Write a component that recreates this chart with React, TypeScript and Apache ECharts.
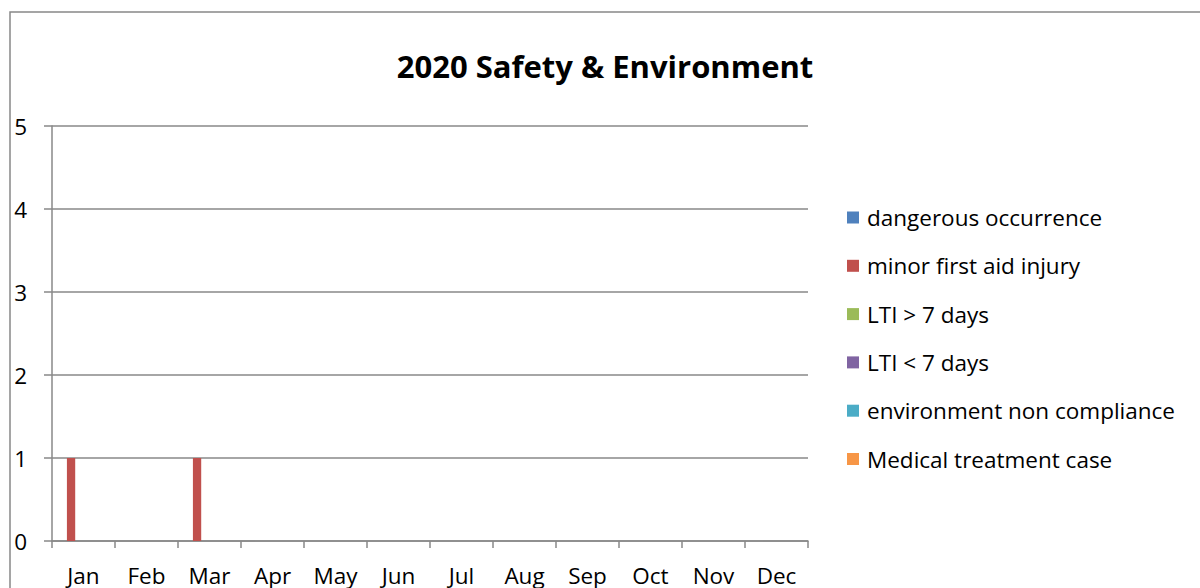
import React, { useEffect, useRef } from "react";
import * as echarts from "echarts";

const months = ["Jan", "Feb", "Mar", "Apr", "May", "Jun", "Jul", "Aug", "Sep", "Oct", "Nov", "Dec"];
const seriesNames = [
  "dangerous occurrence",
  "minor first aid injury",
  "LTI > 7 days",
  "LTI < 7 days",
  "environment non compliance",
  "Medical treatment case",
];
const dangerousOccurrence = [0, 0, 0, 0, 0, 0, 0, 0, 0, 0, 0, 0];
const minorFirstAidInjury = [1, 0, 1, 0, 0, 0, 0, 0, 0, 0, 0, 0];
const ltiOver7 = [0, 0, 0, 0, 0, 0, 0, 0, 0, 0, 0, 0];
const ltiUnder7 = [0, 0, 0, 0, 0, 0, 0, 0, 0, 0, 0, 0];
const envNonCompliance = [0, 0, 0, 0, 0, 0, 0, 0, 0, 0, 0, 0];
const medicalTreatment = [0, 0, 0, 0, 0, 0, 0, 0, 0, 0, 0, 0];
const seriesValues = [dangerousOccurrence, minorFirstAidInjury, ltiOver7, ltiUnder7, envNonCompliance, medicalTreatment];
const colors = ["#4F81BD", "#C0504D", "#9BBB59", "#8064A2", "#4BACC6", "#F79646"];

const FONT = "'Open Sans', 'Noto Sans', sans-serif";
const GRAY = "#888888";

export default function App() {
  const ref = useRef<HTMLDivElement>(null);
  useEffect(() => {
    document.body.style.margin = "0";
    const chart = echarts.init(ref.current!, undefined, { renderer: "svg" });
    chart.setOption({
      animation: false,
      backgroundColor: "#ffffff",
      color: colors,
      title: {
        text: "2020 Safety & Environment",
        left: 605,
        textAlign: "center",
        top: 50,
        padding: 0,
        textStyle: { fontFamily: FONT, fontSize: 31, fontWeight: "bold", color: "#000000" },
      },
      legend: {
        orient: "vertical",
        left: 847,
        top: 206,
        padding: 0,
        itemWidth: 12,
        itemHeight: 12,
        itemGap: 25.3,
        icon: "rect",
        data: seriesNames,
        textStyle: { fontFamily: FONT, fontSize: 22.5, lineHeight: 22, color: "#000000", padding: [0, 0, 0, 3] },
      },
      grid: { left: 52, right: 392, top: 126, bottom: 47, containLabel: false },
      xAxis: {
        type: "category",
        data: months,
        boundaryGap: true,
        axisLine: { show: true, lineStyle: { color: GRAY, width: 1.5 } },
        axisTick: { show: true, length: 7, lineStyle: { color: GRAY, width: 1.5 } },
        axisLabel: { fontFamily: FONT, fontSize: 22.5, lineHeight: 18, color: "#000000", margin: 25, interval: 0 },
        splitLine: { show: false },
      },
      yAxis: {
        type: "value",
        min: 0,
        max: 5,
        interval: 1,
        axisLine: { show: true, lineStyle: { color: GRAY, width: 1.5 } },
        axisTick: { show: true, length: 8, lineStyle: { color: GRAY, width: 1.5 } },
        axisLabel: { fontFamily: FONT, fontSize: 22.5, color: "#000000", margin: 25, align: "right" },
        splitLine: { show: true, lineStyle: { color: GRAY, width: 1.5 } },
      },
      series: seriesNames.map((name, i) => ({
        name,
        type: "bar",
        data: seriesValues[i],
        barGap: "0%",
        barCategoryGap: "21%",
        itemStyle: { color: colors[i] },
      })),
      graphic: [
        {
          type: "rect",
          shape: { x: 10, y: 12, width: 1300, height: 700 },
          style: { fill: "none", stroke: GRAY, lineWidth: 1.5 },
          silent: true,
        },
      ],
    });
    return () => chart.dispose();
  }, []);
  return <div ref={ref} style={{ width: 1200, height: 588 }} />;
}
